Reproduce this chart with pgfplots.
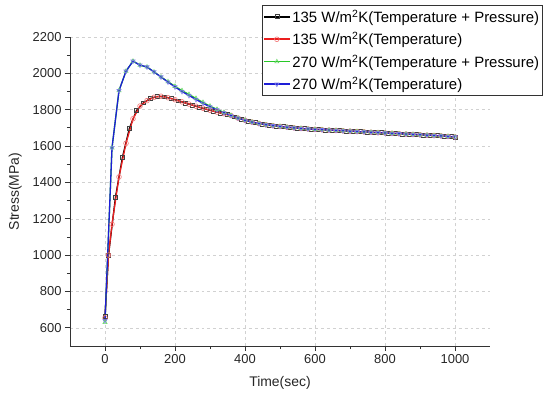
\documentclass[border=0pt]{standalone}
\usepackage{pgfplots}
\pgfplotsset{compat=1.18}
\usepackage{fontspec}
\setmainfont{Liberation Sans}
\definecolor{cblue}{RGB}{30,30,215}
\definecolor{cred}{RGB}{235,30,30}
\definecolor{cgreen}{RGB}{40,200,40}
\begin{document}
\begin{tikzpicture}
\path[use as bounding box] (-70bp,-50bp) rectangle (480bp,346bp);
\begin{axis}[
  at={(0,0)}, anchor=south west,
  scale only axis, width=420bp, height=309bp,
  xmin=-100, xmax=1100, ymin=500, ymax=2200,
  xtick={0,200,...,1000}, ytick={600,800,...,2200},
  minor x tick num=1, minor y tick num=1,
  axis x line*=bottom, axis y line*=left,
  axis line style={black!80, line width=0.8pt},
  tick align=outside,
  major tick length=5bp, minor tick length=3bp,
  tick style={black!80, line width=0.8pt},
  grid=major,
  major grid style={dashed, black!18, line width=0.5pt},
  /pgf/number format/assume math mode=true,
  /pgf/number format/set thousands separator={},
  ticklabel style={font=\fontsize{13}{15}\selectfont, text=black!85},
  xlabel={Time(sec)}, ylabel={Stress(MPa)},
  xlabel style={font=\fontsize{14}{16}\selectfont, text=black!85, yshift=-6bp},
  ylabel style={font=\fontsize{14}{16}\selectfont, text=black!85, yshift=4bp},
  legend style={at={(rel axis cs:0.457,1.104)}, anchor=north west,
    draw=black!80, line width=0.8pt, font=\fontsize{15}{18}\selectfont,
    row sep=4.5bp, inner xsep=1bp, inner ysep=2.5bp,
    legend cell align=left},
  legend image code/.code={
    \draw[line width=1.5pt, mark repeat=2,mark phase=2] plot coordinates {(0cm,0cm) (0.45cm,0cm) (0.9cm,0cm)};},
  every axis plot/.append style={line width=1.3pt, mark size=2.4pt},
]
\addplot[black, mark=square, mark size=2pt, mark options={solid, line width=0.6pt, fill=white, draw=black!75}] coordinates {
(0,665) (10,1000) (30,1320) (50,1540) (70,1700) (90,1795) (110,1838) (130,1862)
(150,1873) (170,1871) (190,1861) (210,1849) (230,1837) (250,1825) (270,1813)
(290,1802) (310,1792) (330,1782) (350,1773) (370,1761) (390,1748) (410,1737)
(430,1728) (450,1720) (470,1714) (490,1710) (510,1706) (530,1702) (550,1698)
(570,1695) (590,1693) (610,1691) (630,1689) (650,1687) (670,1685) (690,1683)
(710,1681) (730,1679) (750,1677) (770,1675) (790,1673) (810,1671) (830,1669)
(850,1667) (870,1665) (890,1663) (910,1661) (930,1659) (950,1657) (970,1655)
(990,1651) (1000,1650)};
\addlegendentry{135 W/m\textsuperscript{2}K(Temperature + Pressure)}
\addplot[cred, mark=o, mark options={solid, line width=0.6pt, fill=white, draw=cred!60}] coordinates {
(0,655) (10,1000) (20,1170) (40,1430) (60,1615) (80,1750) (100,1820) (120,1850)
(140,1868) (160,1874) (180,1866) (200,1855) (220,1843) (240,1831) (260,1819)
(280,1808) (300,1797) (320,1787) (340,1778) (360,1768) (380,1754) (400,1742)
(420,1732) (440,1724) (460,1717) (480,1712) (500,1708) (520,1704) (540,1700)
(560,1697) (580,1694) (600,1692) (620,1690) (640,1688) (660,1686) (680,1684)
(700,1682) (720,1680) (740,1678) (760,1676) (780,1674) (800,1672) (820,1670)
(840,1668) (860,1666) (880,1664) (900,1662) (920,1660) (940,1658) (960,1656)
(980,1653) (1000,1650)};
\addlegendentry{135 W/m\textsuperscript{2}K(Temperature)}
\addplot[cgreen, mark=triangle, mark options={solid, line width=0.6pt, fill=white, draw=cgreen!70}] coordinates {
(0,630) (20,1590) (40,1905) (60,2012) (80,2067) (100,2045) (120,2035)
(140,2008) (160,1980) (180,1954) (200,1929) (220,1905) (240,1884) (260,1862)
(280,1840) (300,1820) (320,1802) (340,1785) (360,1769) (380,1754) (400,1742)
(420,1732) (440,1724) (460,1717) (480,1712) (500,1708) (520,1704) (540,1700)
(560,1697) (580,1694) (600,1692) (620,1690) (640,1688) (660,1686) (680,1684)
(700,1682) (720,1680) (740,1678) (760,1676) (780,1674) (800,1672) (820,1670)
(840,1668) (860,1666) (880,1664) (900,1662) (920,1660) (940,1658) (960,1656)
(980,1653) (1000,1650)};
\addlegendentry{270 W/m\textsuperscript{2}K(Temperature + Pressure)}
\addplot[cblue, mark=triangle, mark options={solid, rotate=180, line width=0.6pt, fill=white, draw=cblue!60}] coordinates {
(0,640) (20,1590) (40,1905) (60,2012) (80,2067) (100,2045) (120,2035)
(140,2008) (160,1980) (180,1952) (200,1925) (220,1900) (240,1878) (260,1856)
(280,1835) (300,1816) (320,1799) (340,1783) (360,1768) (380,1754) (400,1742)
(420,1732) (440,1724) (460,1717) (480,1712) (500,1708) (520,1704) (540,1700)
(560,1697) (580,1694) (600,1692) (620,1690) (640,1688) (660,1686) (680,1684)
(700,1682) (720,1680) (740,1678) (760,1676) (780,1674) (800,1672) (820,1670)
(840,1668) (860,1666) (880,1664) (900,1662) (920,1660) (940,1658) (960,1656)
(980,1653) (1000,1650)};
\addlegendentry{270 W/m\textsuperscript{2}K(Temperature)}
\end{axis}
\end{tikzpicture}
\end{document}
